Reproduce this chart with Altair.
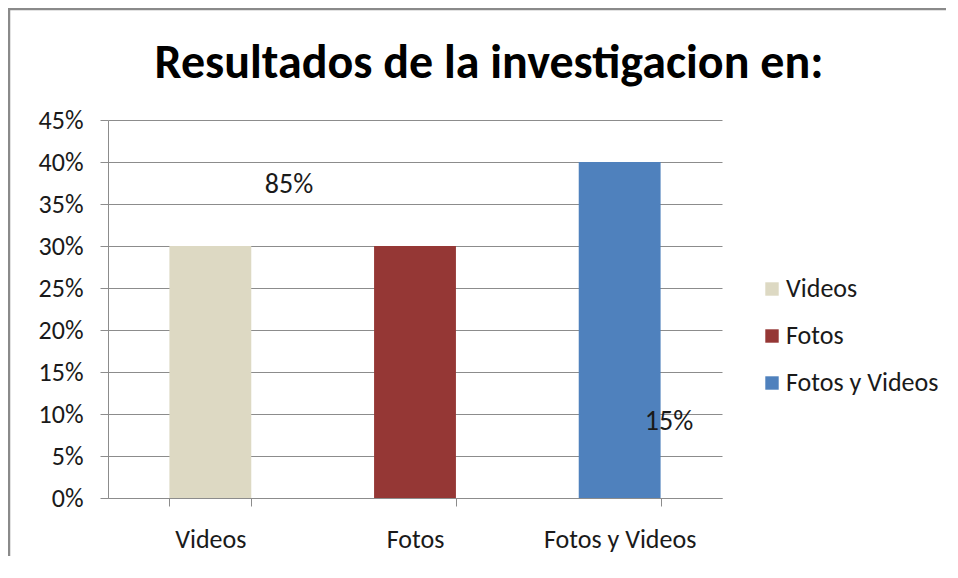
import altair as alt
import pandas as pd

categories = ["Videos", "Fotos", "Fotos y Videos"]
values = [0.30, 0.30, 0.40]
colors = ["#DDD9C3", "#953735", "#4F81BD"]
y_ticks = [0, 0.05, 0.10, 0.15, 0.20, 0.25, 0.30, 0.35, 0.40, 0.45]
title_text = "Resultados de la investigacion en:"
annotations = ["85%", "15%"]

FONT = "Carlito, Lato, Open Sans, sans-serif"
GRID = "#8c8c8c"
TXT = "#1a1a1a"

df = pd.DataFrame({"categoria": categories, "valor": values})

bars = alt.Chart(df).mark_bar().encode(
    x=alt.X(
        "categoria:N",
        sort=categories,
        scale=alt.Scale(paddingInner=0.6, paddingOuter=0.3),
        axis=alt.Axis(
            title=None, labelAngle=0, labelFontSize=26, labelFont=FONT,
            labelColor=TXT, labelPadding=20, tickBand="extent",
            tickSize=8, tickColor=GRID, domainColor=GRID, grid=False,
        ),
    ),
    y=alt.Y(
        "valor:Q",
        scale=alt.Scale(domain=[0, 0.45], nice=False),
        axis=alt.Axis(
            title=None, format=".0%", values=y_ticks, labelFontSize=26,
            labelFont=FONT, labelColor=TXT, labelPadding=17,
            tickSize=8, tickColor=GRID, domainColor=GRID, gridColor=GRID,
            grid=True, gridOpacity=1,
        ),
    ),
    color=alt.Color(
        "categoria:N",
        sort=categories,
        scale=alt.Scale(domain=categories, range=colors),
        legend=alt.Legend(
            title=None, orient="none", legendX=651, legendY=156,
            symbolType="square", symbolSize=180, symbolStrokeWidth=0,
            labelFontSize=26, labelFont=FONT, labelColor=TXT,
            rowPadding=21, labelOffset=1,
        ),
    ),
)

title = alt.Chart(alt.Data(values=[{"t": title_text}])).mark_text(
    font=FONT, fontSize=48, fontWeight="bold", align="center",
    baseline="alphabetic", color="#000000",
).encode(text="t:N", x=alt.value(381), y=alt.value(-42))

ann1 = alt.Chart(alt.Data(values=[{"t": annotations[0]}])).mark_text(
    font=FONT, fontSize=28, align="center", baseline="middle", color=TXT,
).encode(text="t:N", x=alt.value(181), y=alt.value(65))

ann2 = alt.Chart(alt.Data(values=[{"t": annotations[1]}])).mark_text(
    font=FONT, fontSize=28, align="center", baseline="middle", color=TXT,
).encode(text="t:N", x=alt.value(561), y=alt.value(302))

border_left = alt.Chart(alt.Data(values=[{}])).mark_rule(
    stroke="#8a8a8a", strokeWidth=2.5,
).encode(x=alt.value(-99), y=alt.value(-112), y2=alt.value(446))

border_top = alt.Chart(alt.Data(values=[{}])).mark_rule(
    stroke="#8a8a8a", strokeWidth=2.5,
).encode(x=alt.value(-100), x2=alt.value(840), y=alt.value(-111))

chart = alt.layer(border_left, border_top, bars, title, ann1, ann2).properties(
    width=614, height=378,
    autosize=alt.AutoSizeParams(type="none"),
    padding={"left": 100, "top": 112, "right": 224, "bottom": 58},
).configure_view(stroke="transparent")

chart.save("out.html", embed_options={"renderer": "svg", "actions": False})
